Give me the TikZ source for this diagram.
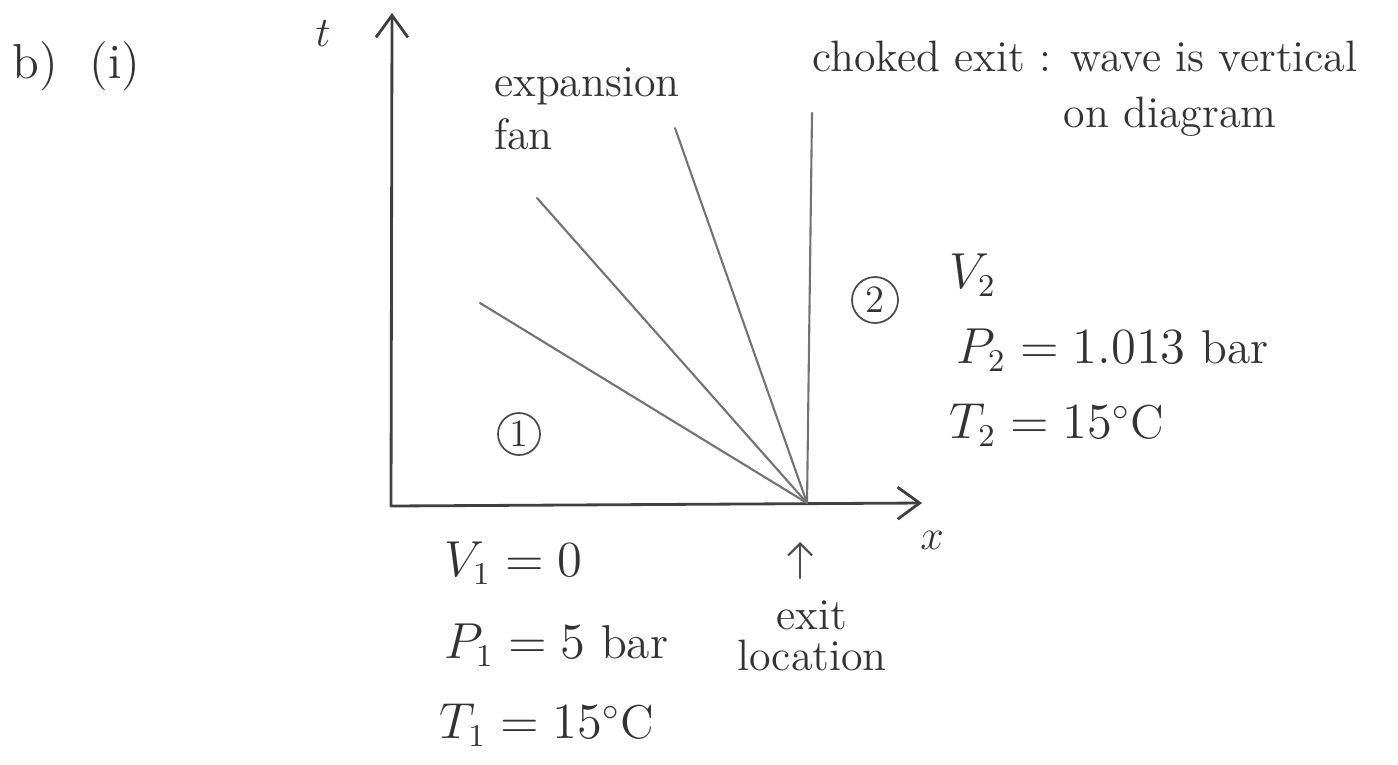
\documentclass[tikz,border=0pt]{standalone}
\usepackage{amsmath,amssymb}
\usepackage{tikz}
\usetikzlibrary{arrows.meta,positioning}

\tikzset{
  hand/.style={text=black!80, font=\fontsize{12.5}{15}\selectfont, inner sep=1pt},
  bighand/.style={hand, font=\fontsize{14}{16}\selectfont},
  midhand/.style={hand, font=\fontsize{13.5}{15}\selectfont},
  axisline/.style={draw=black!75, line width=0.8pt},
  fanline/.style={draw=black!55, line width=0.6pt},
  regionmark/.style={circle, draw=black!70, line width=0.5pt, inner sep=0pt,
    text=black!80, font=\fontsize{11}{12}\selectfont},
}

\begin{document}
\begin{tikzpicture}[>={Straight Barb[length=2.2mm,width=3.2mm]}, line cap=round]
    % Frame
    \useasboundingbox (0,0) rectangle (13.98,7.64);

    % Part label
    \node[bighand] (part) at (0.35,6.98) {b)};
    \node[bighand] (sub) at (1.15,6.98) {(i)};

    % Axes
    \coordinate (O) at (3.91,2.58);
    \coordinate (tend) at (3.92,7.51);
    \coordinate (xend) at (9.22,2.61);
    \draw[axisline,->] (O) -- (tend);
    \draw[axisline,->] (O) -- (xend);
    \node[hand] (tlab) at (3.23,7.30) {$t$};
    \node[hand] (xlab) at (9.32,2.24) {$x$};

    % Expansion fan from the exit
    \coordinate (E) at (8.07,2.61);
    \coordinate (f1) at (4.80,4.61);
    \coordinate (f2) at (5.37,5.66);
    \coordinate (f3) at (6.75,6.36);
    \coordinate (f4) at (8.12,6.51);
    \foreach \f in {f1,f2,f3,f4}
        \draw[fanline] (E) -- (\f);
    \node[hand, anchor=west] (fanA) at (4.90,6.78) {expansion};
    \node[hand, anchor=west] (fanB) at (4.90,6.30) {fan};

    % Note on the choked exit
    \node[hand, anchor=west] (note) at (8.08,7.08) {choked exit : wave is vertical};
    \node[hand] (noteB) at (11.70,6.47) {on diagram};

    % Region 2 (right of the fan)
    \node[regionmark, minimum size=0.46cm] (r2) at (8.75,4.64) {2};
    \node[midhand, anchor=west] (v2) at (9.45,4.89) {$V_2$};
    \node[midhand, anchor=west] (p2) at (9.52,4.14) {$P_2 = 1.013$ bar};
    \node[midhand, anchor=west] (t2) at (9.45,3.39) {$T_2 = 15^\circ$C};

    % Region 1 (left of the fan)
    \node[regionmark, minimum size=0.42cm] (r1) at (5.19,3.30) {1};
    \node[midhand, anchor=west] (v1) at (4.40,2.01) {$V_1 = 0$};
    \node[midhand, anchor=west] (p1) at (4.40,1.19) {$P_1 = 5$ bar};
    \node[midhand, anchor=west] (t1) at (4.35,0.39) {$T_1 = 15^\circ$C};

    % Exit location
    \node[hand] (exitA) at (8.12,1.49) {exit};
    \node[hand, below=0.02 of exitA] (exitB) {location};
    \coordinate (upfoot) at (8.00,1.86);
    \coordinate (up) at (8.00,2.22);
    \draw[draw=black!70, line width=0.6pt, ->, >={Straight Barb[length=1.2mm,width=2.4mm]}] (upfoot) -- (up);
\end{tikzpicture}
\end{document}
